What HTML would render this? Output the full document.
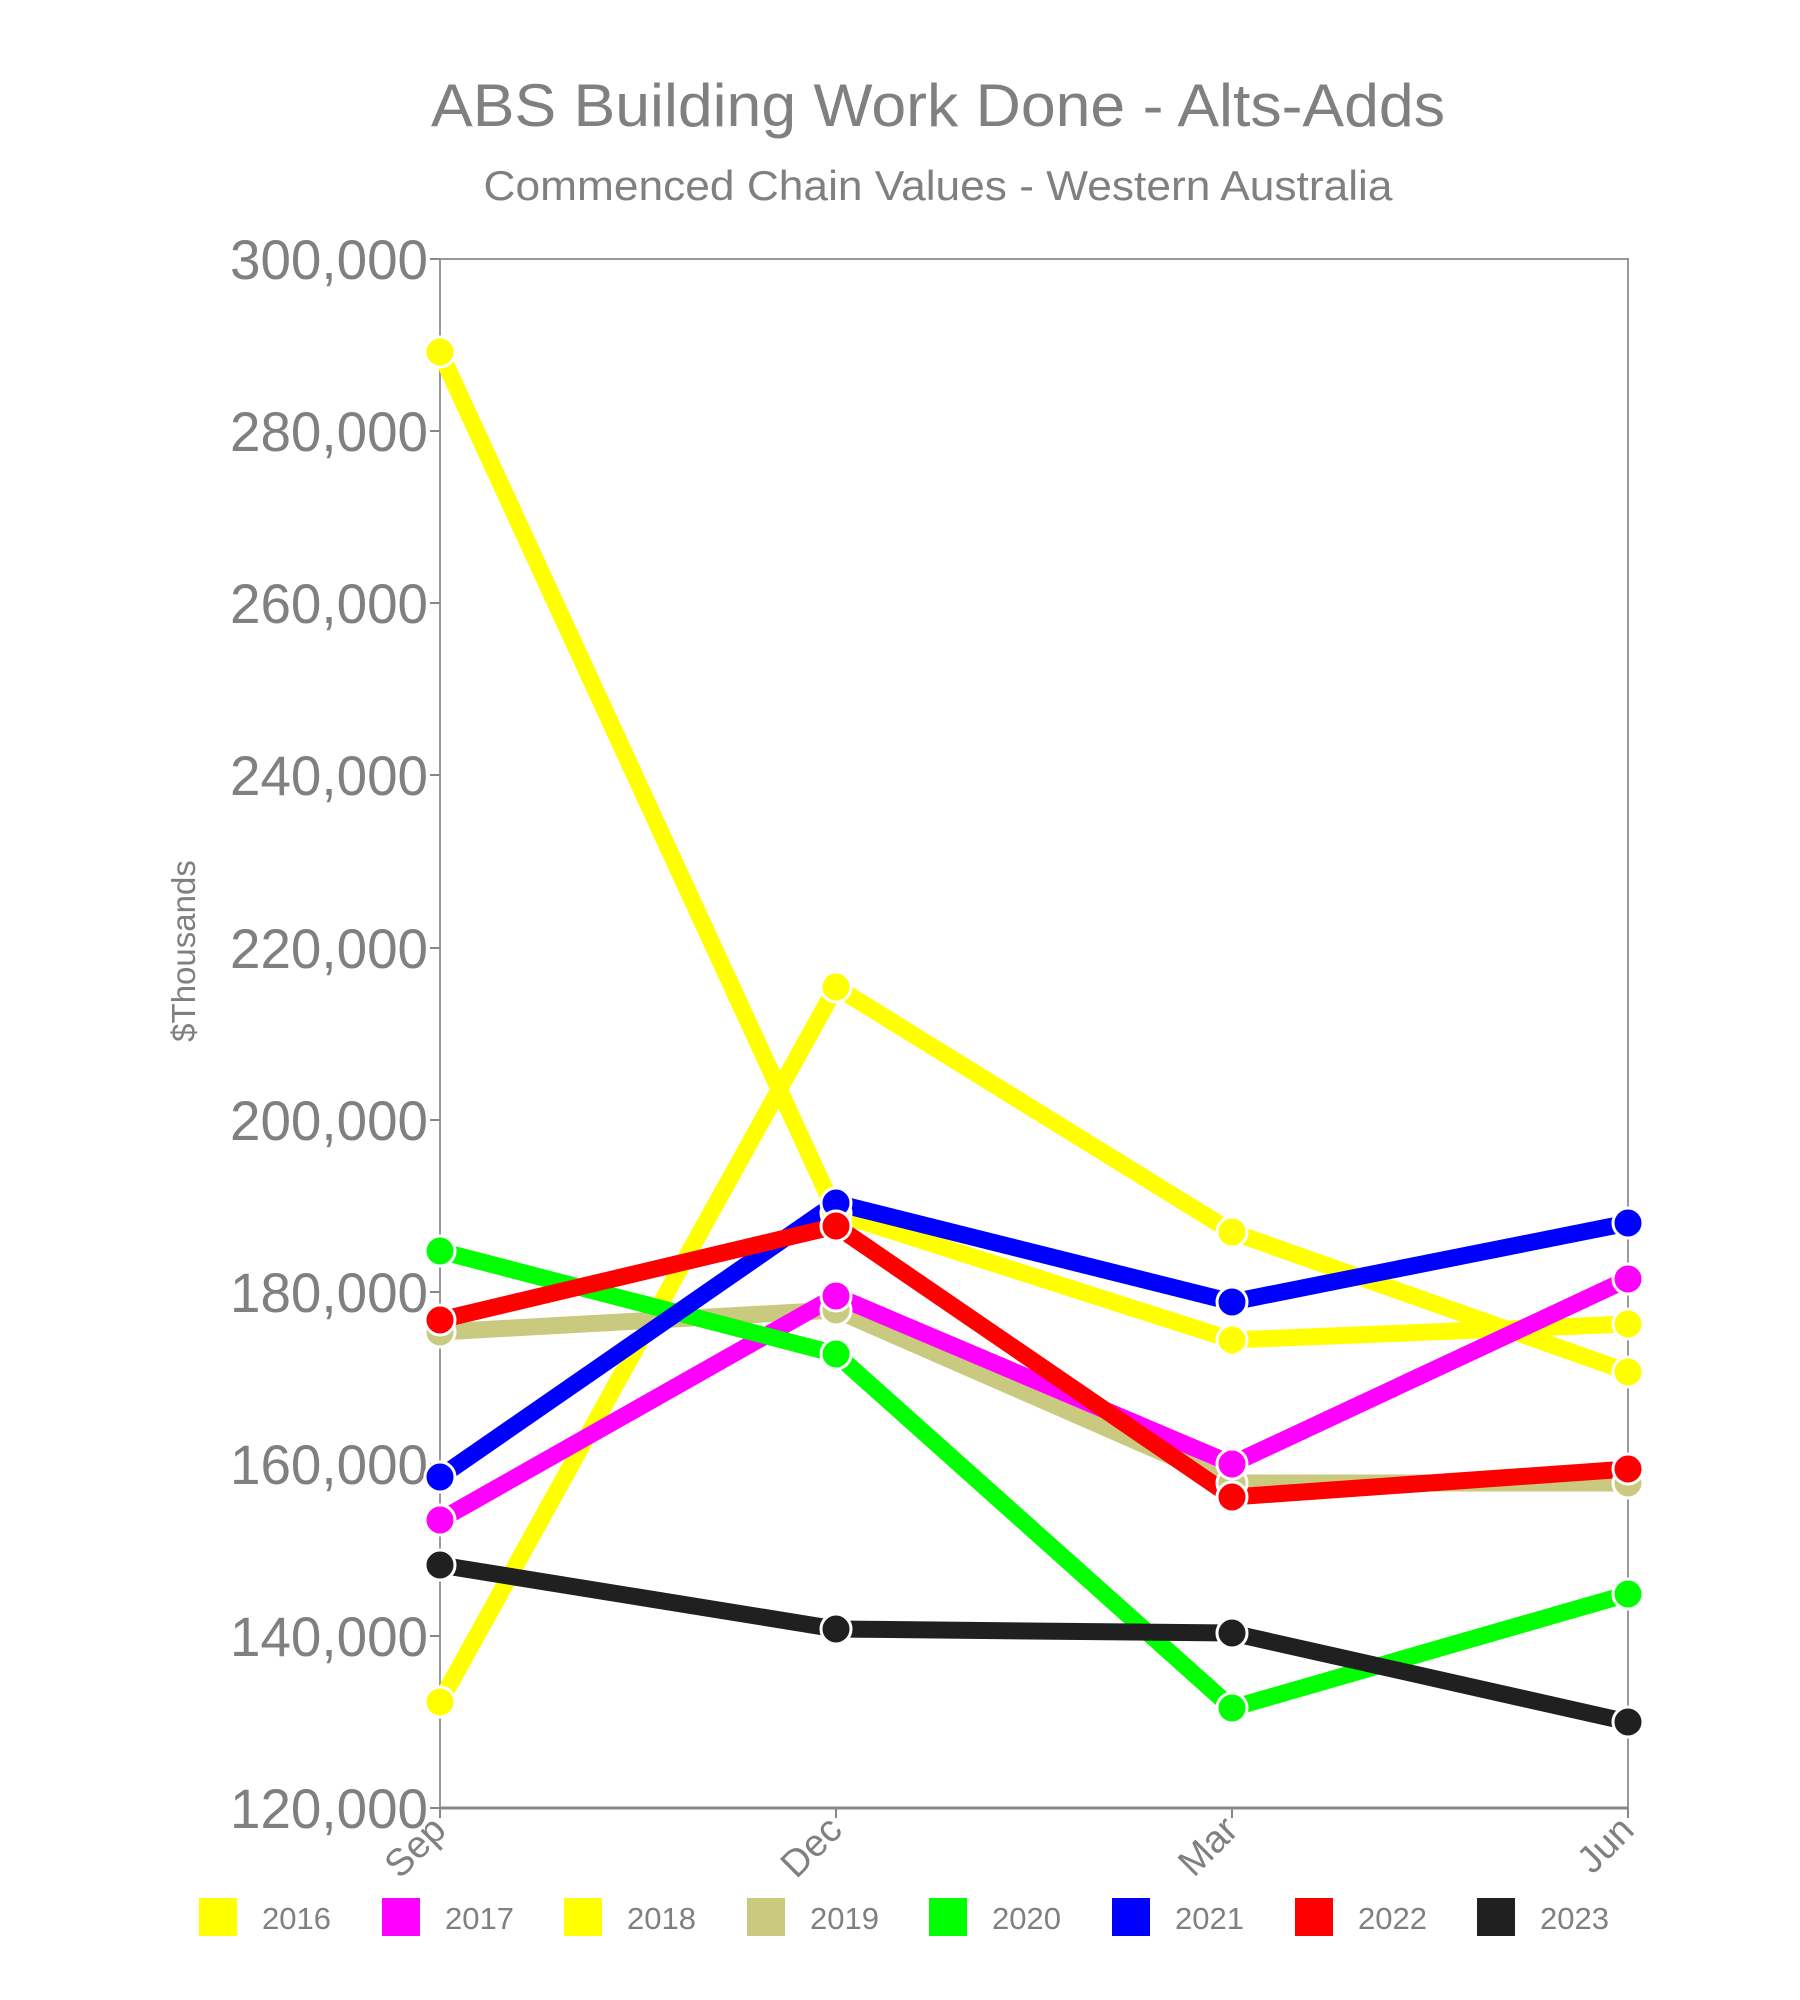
<!DOCTYPE html>
<html><head><meta charset="utf-8"><style>
html,body{margin:0;padding:0;background:#fff;}
svg{display:block;font-family:"Liberation Sans",sans-serif;}
</style></head><body>
<svg width="1800" height="2000" viewBox="0 0 1800 2000" xmlns="http://www.w3.org/2000/svg">
<rect width="1800" height="2000" fill="#fff"/>
<text x="938" y="126" font-size="60" fill="#808080" text-anchor="middle" textLength="1014" lengthAdjust="spacingAndGlyphs">ABS Building Work Done - Alts-Adds</text>
<text x="938" y="200" font-size="42" fill="#808080" text-anchor="middle" textLength="909" lengthAdjust="spacingAndGlyphs">Commenced Chain Values - Western Australia</text>
<rect x="440" y="259" width="1188" height="1549" fill="none" stroke="#999" stroke-width="2"/>
<line x1="440" y1="1808" x2="1628" y2="1808" stroke="#888" stroke-width="3"/>
<g stroke="#888" stroke-width="2">
<line x1="440" y1="1808" x2="440" y2="1818"/><line x1="836" y1="1808" x2="836" y2="1818"/>
<line x1="1232" y1="1808" x2="1232" y2="1818"/><line x1="1628" y1="1808" x2="1628" y2="1818"/>
<line x1="430" y1="259" x2="440" y2="259"/><line x1="430" y1="431" x2="440" y2="431"/><line x1="430" y1="603" x2="440" y2="603"/><line x1="430" y1="775" x2="440" y2="775"/><line x1="430" y1="948" x2="440" y2="948"/><line x1="430" y1="1120" x2="440" y2="1120"/><line x1="430" y1="1292" x2="440" y2="1292"/><line x1="430" y1="1464" x2="440" y2="1464"/><line x1="430" y1="1636" x2="440" y2="1636"/><line x1="430" y1="1808" x2="440" y2="1808"/>
</g>
<g font-size="56" fill="#808080" text-anchor="end">
<text x="428" y="279" textLength="198" lengthAdjust="spacingAndGlyphs">300,000</text>
<text x="428" y="451" textLength="198" lengthAdjust="spacingAndGlyphs">280,000</text>
<text x="428" y="623" textLength="198" lengthAdjust="spacingAndGlyphs">260,000</text>
<text x="428" y="795" textLength="198" lengthAdjust="spacingAndGlyphs">240,000</text>
<text x="428" y="968" textLength="198" lengthAdjust="spacingAndGlyphs">220,000</text>
<text x="428" y="1140" textLength="198" lengthAdjust="spacingAndGlyphs">200,000</text>
<text x="428" y="1312" textLength="198" lengthAdjust="spacingAndGlyphs">180,000</text>
<text x="428" y="1484" textLength="198" lengthAdjust="spacingAndGlyphs">160,000</text>
<text x="428" y="1656" textLength="198" lengthAdjust="spacingAndGlyphs">140,000</text>
<text x="428" y="1828" textLength="198" lengthAdjust="spacingAndGlyphs">120,000</text>
</g>
<text transform="translate(195,951) rotate(-90)" font-size="33" fill="#808080" text-anchor="middle">$Thousands</text>
<g font-size="38" fill="#808080" text-anchor="end">
<text transform="translate(448,1832) rotate(-45)">Sep</text>
<text transform="translate(844,1832) rotate(-45)">Dec</text>
<text transform="translate(1240,1832) rotate(-45)">Mar</text>
<text transform="translate(1636,1832) rotate(-45)">Jun</text>
</g>
<g fill="none" stroke-width="17" stroke-linejoin="round">
<polyline stroke="#ffff00" points="440,352 836,1213 1232,1340 1628,1324"/>
<polyline stroke="#ffff00" points="440,1702 836,987 1232,1232 1628,1372"/>
<polyline stroke="#c9c97f" points="440,1332 836,1310 1232,1483 1628,1483"/>
<polyline stroke="#ff00ff" points="440,1520 836,1296 1232,1464 1628,1279"/>
<polyline stroke="#00ff00" points="440,1251 836,1354 1232,1708 1628,1594"/>
<polyline stroke="#0000ff" points="440,1477 836,1203 1232,1302 1628,1223"/>
<polyline stroke="#ff0000" points="440,1320 836,1226 1232,1497 1628,1469"/>
<polyline stroke="#202020" points="440,1565 836,1629 1232,1633 1628,1722"/>
</g>
<g stroke="#fff" stroke-width="3">
<g fill="#ffff00"><circle cx="440" cy="352" r="15"/><circle cx="836" cy="1213" r="15"/><circle cx="1232" cy="1340" r="15"/><circle cx="1628" cy="1324" r="15"/>
<circle cx="440" cy="1702" r="15"/><circle cx="836" cy="987" r="15"/><circle cx="1232" cy="1232" r="15"/><circle cx="1628" cy="1372" r="15"/></g>
<g fill="#c9c97f"><circle cx="440" cy="1332" r="15"/><circle cx="836" cy="1310" r="15"/><circle cx="1232" cy="1483" r="15"/><circle cx="1628" cy="1483" r="15"/></g>
<g fill="#ff00ff"><circle cx="440" cy="1520" r="15"/><circle cx="836" cy="1296" r="15"/><circle cx="1232" cy="1464" r="15"/><circle cx="1628" cy="1279" r="15"/></g>
<g fill="#00ff00"><circle cx="440" cy="1251" r="15"/><circle cx="836" cy="1354" r="15"/><circle cx="1232" cy="1708" r="15"/><circle cx="1628" cy="1594" r="15"/></g>
<g fill="#0000ff"><circle cx="440" cy="1477" r="15"/><circle cx="836" cy="1203" r="15"/><circle cx="1232" cy="1302" r="15"/><circle cx="1628" cy="1223" r="15"/></g>
<g fill="#ff0000"><circle cx="440" cy="1320" r="15"/><circle cx="836" cy="1226" r="15"/><circle cx="1232" cy="1497" r="15"/><circle cx="1628" cy="1469" r="15"/></g>
<g fill="#202020"><circle cx="440" cy="1565" r="15"/><circle cx="836" cy="1629" r="15"/><circle cx="1232" cy="1633" r="15"/><circle cx="1628" cy="1722" r="15"/></g>
</g>
<g font-size="31" fill="#808080">
<rect x="199" y="1898" width="38" height="38" fill="#ffff00"/><text x="262" y="1929">2016</text>
<rect x="382" y="1898" width="38" height="38" fill="#ff00ff"/><text x="445" y="1929">2017</text>
<rect x="564" y="1898" width="38" height="38" fill="#ffff00"/><text x="627" y="1929">2018</text>
<rect x="747" y="1898" width="38" height="38" fill="#c9c97f"/><text x="810" y="1929">2019</text>
<rect x="929" y="1898" width="38" height="38" fill="#00ff00"/><text x="992" y="1929">2020</text>
<rect x="1112" y="1898" width="38" height="38" fill="#0000ff"/><text x="1175" y="1929">2021</text>
<rect x="1295" y="1898" width="38" height="38" fill="#ff0000"/><text x="1358" y="1929">2022</text>
<rect x="1477" y="1898" width="38" height="38" fill="#202020"/><text x="1540" y="1929">2023</text>
</g>
</svg>
</body></html>
